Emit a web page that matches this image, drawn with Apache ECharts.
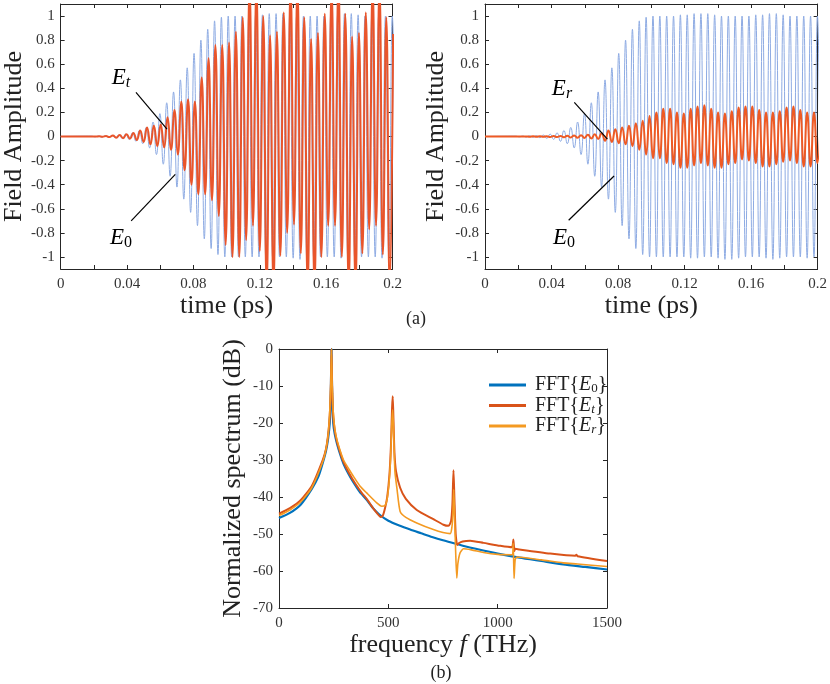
<!DOCTYPE html>
<html>
<head>
<meta charset="utf-8">
<script src="https://cdn.jsdelivr.net/npm/echarts@6/dist/echarts.min.js"></script>
<style>
  html, body { margin: 0; padding: 0; background: #fff; }
  #chart { width: 830px; height: 684px; }
</style>
</head>
<body>
<div id="chart"></div>
<script>
// ---- (a) time traces: one value per half cycle (the extrema) ----
var halfStep = 0.00206;   // ps between successive extrema
var e0Start = 0.0186;     // time of first listed extremum of E0 and Er
var etStart = 0.0191;     // time of first listed extremum of Et

var e0Peaks = [
  0.003, -0.003, 0.004, -0.005, 0.006, -0.007, 0.008, -0.01, 0.012, -0.015,
  0.02, -0.024, 0.03, -0.04, 0.05, -0.06, 0.075, -0.095, 0.12, -0.15,
  0.19, -0.23, 0.28, -0.33, 0.37, -0.42, 0.47, -0.52, 0.57, -0.63,
  0.69, -0.74, 0.8, -0.85, 0.89, -0.93, 0.96, -0.98, 0.99, -1.0,
  1.0, -1.0, 1.0, -1.0, 1.0, -1.0, 1.0, -1.0, 1.01, -1.0,
  1.01, -1.01, 1.02, -1.01, 1.02, -1.0, 1.02, -1.0, 1.01, -1.01,
  1.0, -1.02, 1.0, -1.02, 1.0, -1.01, 1.0, -1.0, 1.0, -1.0,
  1.01, -1.0, 1.01, -1.01, 1.02, -1.02, 1.02, -1.01, 1.01, -1.0,
  1.0, -1.0, 1.0, -1.0, 1.0, -1.01, 1.0, -1.0, 1.0, -1.0
];

var etPeaks = [
  0.0005, -0.001, 0.0015, -0.002, 0.004, -0.005, 0.008, -0.01, 0.013, -0.014,
  0.018, -0.018, 0.03, -0.03, 0.05, -0.045, 0.075, -0.065, 0.09, -0.08,
  0.1, -0.09, 0.16, -0.11, 0.22, -0.15, 0.29, -0.28, 0.31, -0.4,
  0.29, -0.48, 0.49, -0.48, 0.65, -0.53, 0.76, -0.66, 0.76, -0.9,
  0.78, -1.0, 0.87, -1.0, 0.99, -0.86, 1.25, -0.74, 1.25, -0.95,
  1.0, -1.25, 0.84, -1.25, 0.87, -0.99, 1.03, -0.8, 1.25, -0.73,
  1.25, -0.97, 0.99, -1.25, 0.81, -1.25, 0.86, -1.0, 1.02, -0.74,
  1.22, -0.74, 1.3, -1.0, 1.02, -1.25, 0.83, -1.25, 0.86, -0.97,
  1.03, -0.77, 1.25, -0.74, 1.25, -0.98, 0.99, -1.25, 0.85
];

var erPeaks = [
  -0.001, 0.001, -0.001, 0.001, -0.002, 0.002, -0.002, 0.003, -0.003, 0.003,
  -0.004, 0.004, -0.005, 0.005, -0.006, 0.007, -0.008, 0.009, -0.01, 0.011,
  -0.012, 0.014, -0.016, 0.018, -0.02, 0.028, -0.035, 0.05, -0.045, 0.06,
  -0.055, 0.075, -0.065, 0.09, -0.08, 0.11, -0.11, 0.13, -0.15, 0.17,
  -0.18, 0.2, -0.18, 0.23, -0.22, 0.23, -0.23, 0.2, -0.26, 0.19,
  -0.26, 0.23, -0.24, 0.25, -0.22, 0.26, -0.24, 0.23, -0.26, 0.2,
  -0.26, 0.19, -0.23, 0.21, -0.22, 0.24, -0.19, 0.25, -0.2, 0.25,
  -0.22, 0.22, -0.25, 0.2, -0.25, 0.2, -0.23, 0.21, -0.21, 0.24,
  -0.2, 0.25, -0.22, 0.22, -0.25, 0.2, -0.25, 0.2, -0.22, 0.2
];

var timeTicks = [0, 0.02, 0.04, 0.06, 0.08, 0.1, 0.12, 0.14, 0.16, 0.18, 0.2];
var timeLabels = [0, 0.04, 0.08, 0.12, 0.16, 0.2];
var ampTicks = [-1, -0.8, -0.6, -0.4, -0.2, 0, 0.2, 0.4, 0.6, 0.8, 1];

// ---- (b) normalized spectra (dB) ----
var freqE0 = [0, 50, 100, 150, 180, 200, 215, 225, 232, 237, 240, 243, 248, 255, 265, 280, 295, 320, 340, 370,
  400, 430, 460, 500, 550, 600, 650, 700, 750, 800, 850, 900, 1000, 1100, 1200, 1300, 1400, 1500];
var specE0 = [-45.7, -44.3, -42, -37.8, -34.5, -30.8, -27.5, -24, -20, -12, 0, -12, -20, -23, -25.5, -28.5, -31, -34, -36, -38.7,
  -40.7, -43, -44.8, -46.4, -47.7, -48.8, -49.8, -50.8, -51.7, -52.5, -53.3, -54.0, -55.3, -56.4, -57.3, -58.2, -58.9, -59.6];

var freqEt = [0, 50, 100, 150, 200, 215, 225, 232, 237, 240, 243, 248, 255, 265, 280, 295, 320, 350, 380, 401,
  430, 447, 465, 475, 485, 495, 505, 512, 517, 520, 523, 528, 535, 554, 580, 630, 706, 752, 775, 787,
  793, 798, 802, 808, 815, 822, 840, 874, 935, 1012, 1065, 1072, 1076, 1080, 1100, 1240, 1355, 1360, 1365, 1500];
var specEt = [-44.5, -43, -40.8, -37, -30, -27, -23, -18, -10, 0, -10, -18, -22, -25, -28, -30.5, -33.5, -36.5, -39, -40.5,
  -43, -44.3, -45.4, -45, -43, -40, -34, -26, -16, -12.8, -18, -28, -33, -37.5, -40.5, -43.5, -46, -47.5, -47.8, -46.5,
  -42, -32.8, -40, -50, -53, -52.5, -52, -51.8, -52.4, -53.2, -53.6, -51.5, -54.6, -54, -54.2, -55.3, -55.9, -55.6, -56, -57.3];

var freqEr = [0, 50, 100, 150, 200, 215, 225, 232, 237, 240, 243, 248, 255, 265, 280, 295, 320, 340, 370, 401,
  447, 470, 485, 493, 502, 510, 516, 520, 524, 530, 540, 554, 580, 630, 706, 750, 783, 790, 795, 799,
  803, 808, 813, 818, 828, 844, 880, 935, 1000, 1065, 1071, 1075, 1080, 1088, 1200, 1300, 1365, 1500];
var specEr = [-45, -43.5, -41.3, -37.5, -30.5, -27, -23, -17, -9, 0, -9, -17, -21.5, -24.5, -27.5, -30, -32.5, -34.4, -37, -38.9,
  -41.6, -42.5, -42.3, -41, -37, -30, -20, -16.4, -22, -33, -38, -43.9, -45.5, -47, -48.8, -49.6, -49.9, -48.5, -45, -38,
  -45, -55, -61.9, -58, -55.1, -54, -54.3, -55, -55.5, -55.6, -52.5, -62, -57, -56.2, -57, -57.8, -58.1, -58.8];

var freqTicks = [0, 500, 1000, 1500];
var dbTicks = [-70, -60, -50, -40, -30, -20, -10, 0];

// leader lines for the curve labels, in data units [t, value]
var leaderEt = [[0.0454, 0.367], [0.0641, 0.061]];
var leaderE0a = [[0.0425, -0.70], [0.0691, -0.314]];
var leaderEr = [[0.0537, 0.283], [0.0736, -0.022]];
var leaderE0b = [[0.0503, -0.695], [0.0776, -0.328]];

var serif = 'Liberation Serif';
var axisColor = '#262626';
var labelColor = '#333';

function traceData(start, peaks) {
  var out = [[0, 0]];
  peaks.forEach(function (v, i) { out.push([start + i * halfStep, v]); });
  return out;
}
function pairs(xs, ys) {
  return xs.map(function (x, i) { return [x, ys[i]]; });
}
function fmt(v) { return String(+v.toFixed(2)); }

var nameStyle = {
  fontFamily: serif, fontSize: 26, color: '#222',
  rich: { i: { fontFamily: serif, fontSize: 26, fontStyle: 'italic', color: '#222' } }
};

function mainX(grid, min, max, ticks, labels, name, gap) {
  return {
    type: 'value', gridIndex: grid, min: min, max: max, position: 'bottom',
    axisLine: { onZero: false, lineStyle: { color: axisColor } },
    axisTick: { inside: true, length: 4, customValues: ticks, lineStyle: { color: axisColor } },
    axisLabel: { customValues: labels, color: labelColor, fontFamily: serif, fontSize: 15, margin: 8, formatter: fmt },
    splitLine: { show: false },
    name: name, nameLocation: 'middle', nameGap: gap, nameTextStyle: nameStyle
  };
}
function sideX(grid, min, max, ticks) {
  return {
    type: 'value', gridIndex: grid, min: min, max: max, position: 'top',
    axisLine: { onZero: false, lineStyle: { color: axisColor } },
    axisTick: { inside: true, length: 4, customValues: ticks, lineStyle: { color: axisColor } },
    axisLabel: { show: false }, splitLine: { show: false }
  };
}
function mainY(grid, min, max, ticks, name, gap) {
  return {
    type: 'value', gridIndex: grid, min: min, max: max, position: 'left',
    axisLine: { show: true, onZero: false, lineStyle: { color: axisColor } },
    axisTick: { show: true, inside: true, length: 4, customValues: ticks, lineStyle: { color: axisColor } },
    axisLabel: { customValues: ticks, color: labelColor, fontFamily: serif, fontSize: 15, margin: 6, formatter: fmt },
    splitLine: { show: false },
    name: name, nameLocation: 'middle', nameGap: gap, nameTextStyle: nameStyle
  };
}
function sideY(grid, min, max, ticks) {
  return {
    type: 'value', gridIndex: grid, min: min, max: max, position: 'right',
    axisLine: { show: true, onZero: false, lineStyle: { color: axisColor } },
    axisTick: { show: true, inside: true, length: 4, customValues: ticks, lineStyle: { color: axisColor } },
    axisLabel: { show: false }, splitLine: { show: false }
  };
}

function leader(pts) {
  return [{ coord: pts[0] }, { coord: pts[1] }];
}
var leaderStyle = { color: '#000', width: 1.2, type: 'solid' };

var richLabel = {
  e: { fontFamily: serif, fontSize: 23, fontStyle: 'italic', color: '#111' },
  s: { fontFamily: serif, fontSize: 16, fontStyle: 'italic', color: '#111', padding: [9, 0, 0, 0] },
  n: { fontFamily: serif, fontSize: 16, color: '#111', padding: [9, 0, 0, 0] }
};
function curveLabel(x, y, text) {
  return {
    type: 'text', x: x, y: y,
    style: { text: text, rich: richLabel, align: 'center', verticalAlign: 'middle', textAlign: 'center', textVerticalAlign: 'middle' }
  };
}

var legendNames = { specE0: 'FFT{{e|E}{s|0}}', specEt: 'FFT{{e|E}{si|t}}', specEr: 'FFT{{e|E}{si|r}}' };

var chart = echarts.init(document.getElementById('chart'));
var option = {
  backgroundColor: '#fff',
  animation: false,
  grid: [
    { left: 55, top: 4, width: 337.5, height: 265 },
    { left: 485, top: 4, width: 335, height: 265 },
    { left: 279, top: 349, width: 328, height: 259 }
  ],
  xAxis: [
    mainX(0, 0, 0.2, timeTicks, timeLabels, 'time (ps)', 10),
    sideX(0, 0, 0.2, timeTicks),
    mainX(1, 0, 0.2, timeTicks, timeLabels, 'time (ps)', 10),
    sideX(1, 0, 0.2, timeTicks),
    mainX(2, 0, 1500, freqTicks, freqTicks, 'frequency {i|f} (THz)', 17),
    sideX(2, 0, 1500, freqTicks)
  ],
  yAxis: [
    mainY(0, -1.1, 1.1, ampTicks, 'Field Amplitude', 32),
    sideY(0, -1.1, 1.1, ampTicks),
    mainY(1, -1.1, 1.1, ampTicks, 'Field Amplitude', 36),
    sideY(1, -1.1, 1.1, ampTicks),
    mainY(2, -70, 0, dbTicks, 'Normalized spectrum (dB)', 33),
    sideY(2, -70, 0, dbTicks)
  ],
  legend: {
    data: ['specE0', 'specEt', 'specEr'],
    orient: 'vertical', left: 484, top: 370,
    icon: 'rect', itemWidth: 37, itemHeight: 3, itemGap: 0,
    formatter: function (name) { return legendNames[name]; },
    textStyle: {
      fontFamily: serif, fontSize: 20, color: '#222', padding: [0, 0, 0, 4],
      rich: {
        e: { fontFamily: serif, fontSize: 20, fontStyle: 'italic', color: '#222' },
        s: { fontFamily: serif, fontSize: 13, color: '#222', padding: [8, 0, 0, 0] },
        si: { fontFamily: serif, fontSize: 13, fontStyle: 'italic', color: '#222', padding: [8, 0, 0, 0] }
      }
    }
  },
  series: [
    { name: 'E0 (a)', type: 'line', xAxisIndex: 0, yAxisIndex: 0, data: traceData(e0Start, e0Peaks),
      smooth: true, showSymbol: false, lineStyle: { color: '#8EABE3', width: 1 }, itemStyle: { color: '#8EABE3' } },
    { name: 'Et', type: 'line', xAxisIndex: 0, yAxisIndex: 0, data: traceData(etStart, etPeaks),
      smooth: true, showSymbol: false, lineStyle: { color: '#E9552B', width: 2 }, itemStyle: { color: '#E9552B' },
      markLine: { silent: true, symbol: ['none', 'none'], label: { show: false }, lineStyle: leaderStyle,
        data: [leader(leaderEt), leader(leaderE0a)] } },
    { name: 'E0 (b)', type: 'line', xAxisIndex: 2, yAxisIndex: 2, data: traceData(e0Start, e0Peaks),
      smooth: true, showSymbol: false, lineStyle: { color: '#8EABE3', width: 1 }, itemStyle: { color: '#8EABE3' } },
    { name: 'Er', type: 'line', xAxisIndex: 2, yAxisIndex: 2, data: traceData(e0Start, erPeaks),
      smooth: true, showSymbol: false, lineStyle: { color: '#EE5A24', width: 2 }, itemStyle: { color: '#EE5A24' },
      markLine: { silent: true, symbol: ['none', 'none'], label: { show: false }, lineStyle: leaderStyle,
        data: [leader(leaderEr), leader(leaderE0b)] } },
    { name: 'specE0', type: 'line', xAxisIndex: 4, yAxisIndex: 4, data: pairs(freqE0, specE0),
      smooth: 0.2, showSymbol: false, lineStyle: { color: '#0072BD', width: 2.2 }, itemStyle: { color: '#0072BD' } },
    { name: 'specEt', type: 'line', xAxisIndex: 4, yAxisIndex: 4, data: pairs(freqEt, specEt),
      smooth: 0.2, showSymbol: false, lineStyle: { color: '#D95319', width: 2 }, itemStyle: { color: '#D95319' } },
    { name: 'specEr', type: 'line', xAxisIndex: 4, yAxisIndex: 4, data: pairs(freqEr, specEr),
      smooth: 0.2, showSymbol: false, lineStyle: { color: '#F49A22', width: 1.6 }, itemStyle: { color: '#F49A22' } }
  ],
  graphic: [
    curveLabel(121, 78, '{e|E}{s|t}'),
    curveLabel(121, 238, '{e|E}{n|0}'),
    curveLabel(562, 89, '{e|E}{s|r}'),
    curveLabel(564, 238, '{e|E}{n|0}'),
    { type: 'text', x: 416, y: 319,
      style: { text: '(a)', font: '18px "Liberation Serif"', fill: '#222', align: 'center', verticalAlign: 'middle', textAlign: 'center', textVerticalAlign: 'middle' } },
    { type: 'text', x: 441, y: 673,
      style: { text: '(b)', font: '18px "Liberation Serif"', fill: '#222', align: 'center', verticalAlign: 'middle', textAlign: 'center', textVerticalAlign: 'middle' } }
  ]
};
chart.setOption(option);
</script>
</body>
</html>
